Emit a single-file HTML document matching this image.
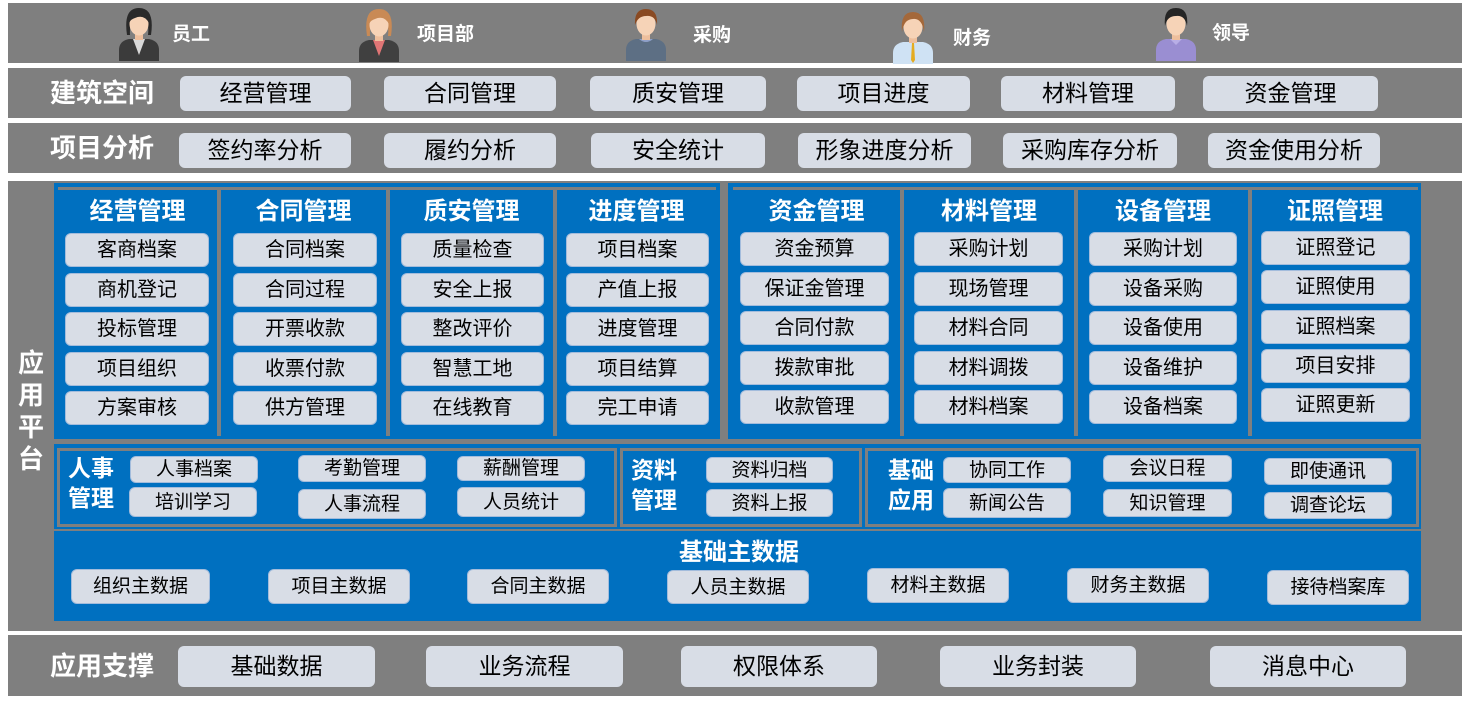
<!DOCTYPE html>
<html><head><meta charset="utf-8">
<style>
*{margin:0;padding:0;box-sizing:border-box}
body{width:1469px;height:703px;background:#fff;position:relative;overflow:hidden;font-family:"Liberation Sans","Noto Sans CJK SC",sans-serif}
.g{position:absolute;background:#7f7f7f}
.bl{position:absolute;background:#0070c0}
.b{position:absolute;background:#d8dde6;border-radius:6px;display:flex;align-items:center;justify-content:center;color:#000;line-height:1;white-space:nowrap;font-size:23px}
.i{font-size:20px;border:1px solid #a3bcdc;height:34px}
.s{font-size:19px;border:1px solid #a3bcdc}
.lbl{position:absolute;color:#fff;font-weight:bold;font-size:26px;line-height:1;white-space:nowrap;display:flex;align-items:center}
.hd{position:absolute;color:#fff;font-weight:bold;font-size:24px;line-height:1;white-space:nowrap;display:flex;align-items:center;justify-content:center;height:28px;top:198px}
.rl{position:absolute;color:#fff;font-weight:bold;font-size:19px;line-height:1;white-space:nowrap}
.bx{position:absolute;background:#0070c0;border:3px solid #7f7f7f}
.sl{position:absolute;color:#fff;font-weight:bold;font-size:23px;line-height:30px;white-space:nowrap}
svg{position:absolute}
</style></head><body>

<!-- top roles band -->
<div class="g" style="left:8px;top:3px;width:1454px;height:60px"></div>

<svg style="left:118px;top:5px" width="42" height="56" viewBox="0 0 42 56">
<path d="M1 56 V45 Q1 36 11 34 L31 34 Q41 36 41 45 V56 Z" fill="#3b3b3b"/>
<path d="M15 34 L21 50 L27 34 Z" fill="#d9d9d9"/>
<path d="M9 30 Q5 3 21 3 Q37 3 33 30 L30 30 Q32 12 21 11 Q11 12 12 30 Z" fill="#2a2a2a"/>
<rect x="17" y="26" width="8" height="9" fill="#eebf9d"/>
<ellipse cx="21" cy="19" rx="9.5" ry="11.5" fill="#f6d3b7"/>
<path d="M11 18 Q11 5 21 5 Q31 5 31 18 Q26 9 17 13 Q13 14 11 18 Z" fill="#2a2a2a"/>
</svg>
<div class="rl" style="left:172px;top:25px">员工</div>

<svg style="left:358px;top:6px" width="42" height="56" viewBox="0 0 42 56">
<path d="M1 56 V45 Q1 36 11 34 L31 34 Q41 36 41 45 V56 Z" fill="#404040"/>
<path d="M15 34 L21 50 L27 34 Z" fill="#e07575"/>
<path d="M9 30 Q5 3 21 3 Q37 3 33 30 L30 30 Q32 12 21 11 Q11 12 12 30 Z" fill="#c98a55"/>
<rect x="17" y="26" width="8" height="9" fill="#eebf9d"/>
<ellipse cx="21" cy="19" rx="9.5" ry="11.5" fill="#f6d3b7"/>
<path d="M11 18 Q11 5 21 5 Q31 5 31 18 Q26 9 17 13 Q13 14 11 18 Z" fill="#c98a55"/>
</svg>
<div class="rl" style="left:417px;top:25px">项目部</div>

<svg style="left:625px;top:5px" width="42" height="56" viewBox="0 0 42 56">
<path d="M1 56 V45 Q1 36 11 34 L31 34 Q41 36 41 45 V56 Z" fill="#5d6f84"/>
<path d="M14 34 Q21 40 28 34 Z" fill="#8fa0c8"/>
<rect x="17" y="26" width="8" height="9" fill="#eebf9d"/>
<ellipse cx="21" cy="19" rx="9.5" ry="11.5" fill="#f6d3b7"/>
<path d="M10 20 Q9 4 21 4 Q33 4 32 20 Q30 10 21 11 Q13 11 10 20 Z" fill="#8a4a22"/>
</svg>
<div class="rl" style="left:693px;top:26px">采购</div>

<svg style="left:892px;top:8px" width="42" height="56" viewBox="0 0 42 56">
<path d="M1 56 V45 Q1 36 11 34 L31 34 Q41 36 41 45 V56 Z" fill="#cfe2f4"/>
<path d="M20 35 L22 35 L23 52 L21 55 L19 52 Z" fill="#e4ac22"/>
<rect x="17" y="26" width="8" height="9" fill="#eebf9d"/>
<ellipse cx="21" cy="19" rx="9.5" ry="11.5" fill="#f6d3b7"/>
<path d="M10 24 Q8 4 21 4 Q34 4 32 24 Q30 10 21 11 Q12 11 10 24 Z" fill="#a4683a"/>
</svg>
<div class="rl" style="left:953px;top:29px">财务</div>

<svg style="left:1155px;top:5px" width="42" height="56" viewBox="0 0 42 56">
<path d="M1 56 V45 Q1 36 11 34 L31 34 Q41 36 41 45 V56 Z" fill="#9a8ed2"/>
<path d="M15 34 L21 40 L27 34 Z" fill="#b8aee6"/>
<rect x="17" y="26" width="8" height="9" fill="#eebf9d"/>
<ellipse cx="21" cy="19" rx="9.5" ry="11.5" fill="#f6d3b7"/>
<path d="M10 21 Q8 3 21 3 Q34 3 32 21 Q30 10 21 11 Q12 11 10 21 Z" fill="#252525"/>
</svg>
<div class="rl" style="left:1212px;top:24px">领导</div>

<!-- 建筑空间 -->
<div class="g" style="left:8px;top:68px;width:1454px;height:50px"></div>
<div class="lbl" style="left:50px;top:68px;height:50px">建筑空间</div>
<div class="b" style="left:180px;top:76px;width:171px;height:35px">经营管理</div>
<div class="b" style="left:384px;top:76px;width:172px;height:35px">合同管理</div>
<div class="b" style="left:590px;top:76px;width:176px;height:35px">质安管理</div>
<div class="b" style="left:797px;top:76px;width:173px;height:35px">项目进度</div>
<div class="b" style="left:1001px;top:76px;width:174px;height:35px">材料管理</div>
<div class="b" style="left:1203px;top:76px;width:175px;height:35px">资金管理</div>

<!-- 项目分析 -->
<div class="g" style="left:8px;top:123px;width:1454px;height:50px"></div>
<div class="lbl" style="left:50px;top:123px;height:50px">项目分析</div>
<div class="b" style="left:179px;top:133px;width:172px;height:35px">签约率分析</div>
<div class="b" style="left:384px;top:133px;width:172px;height:35px">履约分析</div>
<div class="b" style="left:591px;top:133px;width:174px;height:35px">安全统计</div>
<div class="b" style="left:798px;top:133px;width:173px;height:35px">形象进度分析</div>
<div class="b" style="left:1003px;top:133px;width:174px;height:35px">采购库存分析</div>
<div class="b" style="left:1208px;top:133px;width:172px;height:35px">资金使用分析</div>

<!-- 应用平台 -->
<div class="g" style="left:8px;top:181px;width:1454px;height:450px"></div>
<div style="position:absolute;left:14px;top:347px;width:34px;color:#fff;font-weight:bold;font-size:26px;line-height:32px;text-align:center">应<br>用<br>平<br>台</div>

<!-- panel 1 -->
<div class="bl" style="left:54px;top:183px;width:666px;height:256px"></div>
<div class="g" style="left:58px;top:187px;width:658px;height:3px"></div>
<div class="g" style="left:217px;top:187px;width:4px;height:249px"></div>
<div class="g" style="left:386px;top:187px;width:4px;height:249px"></div>
<div class="g" style="left:553px;top:187px;width:4px;height:249px"></div>
<!-- panel 2 -->
<div class="bl" style="left:728px;top:183px;width:693px;height:256px"></div>
<div class="g" style="left:733px;top:187px;width:685px;height:3px"></div>
<div class="g" style="left:900px;top:187px;width:4px;height:249px"></div>
<div class="g" style="left:1074px;top:187px;width:4px;height:249px"></div>
<div class="g" style="left:1248px;top:187px;width:4px;height:249px"></div>

<div class="hd" style="left:58px;width:159px">经营管理</div>
<div class="hd" style="left:221px;width:165px">合同管理</div>
<div class="hd" style="left:390px;width:163px">质安管理</div>
<div class="hd" style="left:557px;width:159px">进度管理</div>
<div class="hd" style="left:733px;width:167px">资金管理</div>
<div class="hd" style="left:904px;width:170px">材料管理</div>
<div class="hd" style="left:1078px;width:170px">设备管理</div>
<div class="hd" style="left:1252px;width:166px">证照管理</div>

<div class="b i" style="left:65px;top:233px;width:144px">客商档案</div>
<div class="b i" style="left:65px;top:273px;width:144px">商机登记</div>
<div class="b i" style="left:65px;top:312px;width:144px">投标管理</div>
<div class="b i" style="left:65px;top:352px;width:144px">项目组织</div>
<div class="b i" style="left:65px;top:391px;width:144px">方案审核</div>

<div class="b i" style="left:233px;top:233px;width:144px">合同档案</div>
<div class="b i" style="left:233px;top:273px;width:144px">合同过程</div>
<div class="b i" style="left:233px;top:312px;width:144px">开票收款</div>
<div class="b i" style="left:233px;top:352px;width:144px">收票付款</div>
<div class="b i" style="left:233px;top:391px;width:144px">供方管理</div>

<div class="b i" style="left:401px;top:233px;width:143px">质量检查</div>
<div class="b i" style="left:401px;top:273px;width:143px">安全上报</div>
<div class="b i" style="left:401px;top:312px;width:143px">整改评价</div>
<div class="b i" style="left:401px;top:352px;width:143px">智慧工地</div>
<div class="b i" style="left:401px;top:391px;width:143px">在线教育</div>

<div class="b i" style="left:566px;top:233px;width:143px">项目档案</div>
<div class="b i" style="left:566px;top:273px;width:143px">产值上报</div>
<div class="b i" style="left:566px;top:312px;width:143px">进度管理</div>
<div class="b i" style="left:566px;top:352px;width:143px">项目结算</div>
<div class="b i" style="left:566px;top:391px;width:143px">完工申请</div>

<div class="b i" style="left:740px;top:232px;width:149px">资金预算</div>
<div class="b i" style="left:740px;top:272px;width:149px">保证金管理</div>
<div class="b i" style="left:740px;top:311px;width:149px">合同付款</div>
<div class="b i" style="left:740px;top:351px;width:149px">拨款审批</div>
<div class="b i" style="left:740px;top:390px;width:149px">收款管理</div>

<div class="b i" style="left:914px;top:232px;width:149px">采购计划</div>
<div class="b i" style="left:914px;top:272px;width:149px">现场管理</div>
<div class="b i" style="left:914px;top:311px;width:149px">材料合同</div>
<div class="b i" style="left:914px;top:351px;width:149px">材料调拨</div>
<div class="b i" style="left:914px;top:390px;width:149px">材料档案</div>

<div class="b i" style="left:1089px;top:232px;width:148px">采购计划</div>
<div class="b i" style="left:1089px;top:272px;width:148px">设备采购</div>
<div class="b i" style="left:1089px;top:311px;width:148px">设备使用</div>
<div class="b i" style="left:1089px;top:351px;width:148px">设备维护</div>
<div class="b i" style="left:1089px;top:390px;width:148px">设备档案</div>

<div class="b i" style="left:1261px;top:231px;width:149px">证照登记</div>
<div class="b i" style="left:1261px;top:270px;width:149px">证照使用</div>
<div class="b i" style="left:1261px;top:310px;width:149px">证照档案</div>
<div class="b i" style="left:1261px;top:349px;width:149px">项目安排</div>
<div class="b i" style="left:1261px;top:388px;width:149px">证照更新</div>

<!-- second band -->
<div class="bl" style="left:54px;top:444px;width:1367px;height:85px"></div>
<div class="bx" style="left:57px;top:448px;width:560px;height:79px"></div>
<div class="bx" style="left:620px;top:448px;width:242px;height:79px"></div>
<div class="bx" style="left:865px;top:448px;width:554px;height:79px"></div>

<div class="sl" style="left:68px;top:453px">人事<br>管理</div>
<div class="b s" style="left:130px;top:456px;width:128px;height:27px">人事档案</div>
<div class="b s" style="left:129px;top:487px;width:128px;height:30px">培训学习</div>
<div class="b s" style="left:298px;top:455px;width:128px;height:27px">考勤管理</div>
<div class="b s" style="left:298px;top:489px;width:128px;height:30px">人事流程</div>
<div class="b s" style="left:457px;top:456px;width:128px;height:25px">薪酬管理</div>
<div class="b s" style="left:457px;top:487px;width:128px;height:30px">人员统计</div>

<div class="sl" style="left:631px;top:455px">资料<br>管理</div>
<div class="b s" style="left:706px;top:457px;width:127px;height:26px">资料归档</div>
<div class="b s" style="left:706px;top:489px;width:127px;height:28px">资料上报</div>

<div class="sl" style="left:888px;top:455px">基础<br>应用</div>
<div class="b s" style="left:943px;top:457px;width:128px;height:26px">协同工作</div>
<div class="b s" style="left:943px;top:488px;width:128px;height:30px">新闻公告</div>
<div class="b s" style="left:1103px;top:455px;width:129px;height:27px">会议日程</div>
<div class="b s" style="left:1103px;top:489px;width:129px;height:28px">知识管理</div>
<div class="b s" style="left:1264px;top:458px;width:128px;height:27px">即使通讯</div>
<div class="b s" style="left:1264px;top:492px;width:128px;height:27px">调查论坛</div>

<!-- 基础主数据 -->
<div class="bl" style="left:54px;top:531px;width:1367px;height:90px"></div>
<div style="position:absolute;left:639px;top:539px;width:200px;text-align:center;color:#fff;font-weight:bold;font-size:24px;line-height:28px">基础主数据</div>
<div class="b s" style="left:71px;top:569px;width:139px;height:35px">组织主数据</div>
<div class="b s" style="left:268px;top:569px;width:142px;height:35px">项目主数据</div>
<div class="b s" style="left:467px;top:569px;width:142px;height:35px">合同主数据</div>
<div class="b s" style="left:667px;top:570px;width:142px;height:34px">人员主数据</div>
<div class="b s" style="left:867px;top:568px;width:142px;height:35px">材料主数据</div>
<div class="b s" style="left:1067px;top:568px;width:142px;height:35px">财务主数据</div>
<div class="b s" style="left:1267px;top:570px;width:142px;height:35px">接待档案库</div>

<!-- 应用支撑 -->
<div class="g" style="left:8px;top:635px;width:1454px;height:61px"></div>
<div class="lbl" style="left:50px;top:635px;height:61px">应用支撑</div>
<div class="b" style="left:178px;top:646px;width:197px;height:41px">基础数据</div>
<div class="b" style="left:426px;top:646px;width:197px;height:41px">业务流程</div>
<div class="b" style="left:681px;top:646px;width:196px;height:41px">权限体系</div>
<div class="b" style="left:940px;top:646px;width:196px;height:41px">业务封装</div>
<div class="b" style="left:1210px;top:646px;width:196px;height:41px">消息中心</div>

</body></html>
